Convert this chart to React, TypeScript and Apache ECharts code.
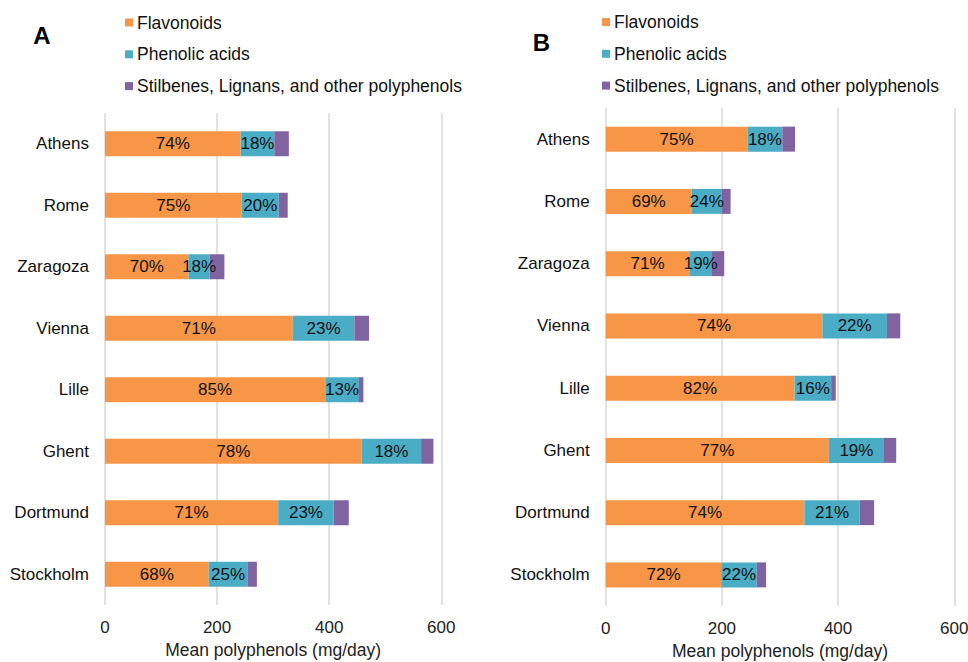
import React, { useEffect, useRef } from "react";
import * as echarts from "echarts";

const categories = ["Athens", "Rome", "Zaragoza", "Vienna", "Lille", "Ghent", "Dortmund", "Stockholm"];
const seriesNames = ["Flavonoids", "Phenolic acids", "Stilbenes, Lignans, and other polyphenols"];

// Panel A (mg/day)
const flavA = [242, 244, 149, 335, 393, 458, 309, 185];
const phenA = [60, 66, 38, 110, 60, 106, 99, 69];
const otherA = [26, 16, 26, 26, 8, 22, 27, 17];

// Panel B (mg/day)
const flavB = [244, 148, 144, 373, 325, 384, 342, 199];
const phenB = [60, 52, 39, 111, 63, 95, 95, 61];
const otherB = [22, 15, 21, 23, 8, 21, 25, 16];

const xTicks = { min: 0, max: 600, interval: 200 };
const colors = ["#F79646", "#4BACC6", "#8064A2"];
const FONT = "Liberation Sans, Arial, sans-serif";

function pct(vals: number[], a: number[], b: number[], c: number[]) {
  return vals.map((v, i) => Math.round((v / (a[i] + b[i] + c[i])) * 100) + "%");
}

export default function App() {
  const ref = useRef<HTMLDivElement>(null);
  useEffect(() => {
    if (!ref.current) return;
    const chart = echarts.init(ref.current, undefined, { renderer: "svg" });
    const grids = [
      { left: 105, top: 113, width: 336.3, height: 492, outerBoundsMode: "none", containLabel: false },
      { left: 605.7, top: 108, width: 348.6, height: 498, outerBoundsMode: "none", containLabel: false },
    ];
    const panels = [
      [flavA, phenA, otherA],
      [flavB, phenB, otherB],
    ];
    const series: any[] = [];
    panels.forEach((p, gi) => {
      const [f, ph, o] = p;
      const labelsArr = [pct(f, f, ph, o), pct(ph, f, ph, o), null];
      p.forEach((vals, si) => {
        series.push({
          type: "bar",
          name: seriesNames[si],
          stack: "s" + gi,
          xAxisIndex: gi,
          yAxisIndex: gi,
          barWidth: 25,
          itemStyle: { color: colors[si] },
          label: labelsArr[si]
            ? {
                show: true,
                position: "inside",
                color: "#111",
                fontSize: 17,
                fontFamily: FONT,
                formatter: (pr: any) => (labelsArr[si] as string[])[pr.dataIndex],
              }
            : { show: false },
          data: vals,
        });
      });
    });
    const xAxis = grids.map((_, gi) => ({
      type: "value",
      gridIndex: gi,
      min: xTicks.min,
      max: xTicks.max,
      interval: xTicks.interval,
      axisLine: { show: false },
      axisTick: { show: false },
      axisLabel: { fontSize: 17, color: "#222", fontFamily: FONT, margin: 14 },
      splitLine: { show: true, lineStyle: { color: "#d9d9d9", width: 1.5 } },
      name: "Mean polyphenols (mg/day)",
      nameLocation: "middle",
      nameGap: 36,
      nameTextStyle: { fontSize: 17.5, color: "#222", fontFamily: FONT },
    }));
    const yAxis = grids.map((_, gi) => ({
      type: "category",
      gridIndex: gi,
      data: categories,
      inverse: true,
      axisLine: { show: false },
      axisTick: { show: false },
      axisLabel: { fontSize: 17, color: "#111", fontFamily: FONT, margin: 16 },
    }));
    const legend = [
      { left: 125, top: 13.5 },
      { left: 602, top: 13 },
    ].map((pos) => ({
      ...pos,
      orient: "vertical",
      padding: 0,
      itemWidth: 8,
      itemHeight: 8,
      itemGap: 13.8,
      icon: "rect",
      data: seriesNames,
      textStyle: { fontSize: 17.5, color: "#111", fontFamily: FONT, padding: [0, 0, 0, -1] },
    }));
    chart.setOption({
      animation: false,
      backgroundColor: "#fff",
      grid: grids,
      xAxis,
      yAxis,
      legend,
      series,
      graphic: [
        {
          type: "text",
          x: 42,
          y: 35,
          style: { text: "A", fontSize: 24, fontWeight: "bold", fontFamily: FONT, fill: "#000", textAlign: "center", textVerticalAlign: "middle" },
        },
        {
          type: "text",
          x: 541.5,
          y: 42,
          style: { text: "B", fontSize: 24, fontWeight: "bold", fontFamily: FONT, fill: "#000", textAlign: "center", textVerticalAlign: "middle" },
        },
      ],
    });
    return () => chart.dispose();
  }, []);
  return <div ref={ref} style={{ position: "fixed", left: 0, top: 0, width: 968, height: 662 }} />;
}
